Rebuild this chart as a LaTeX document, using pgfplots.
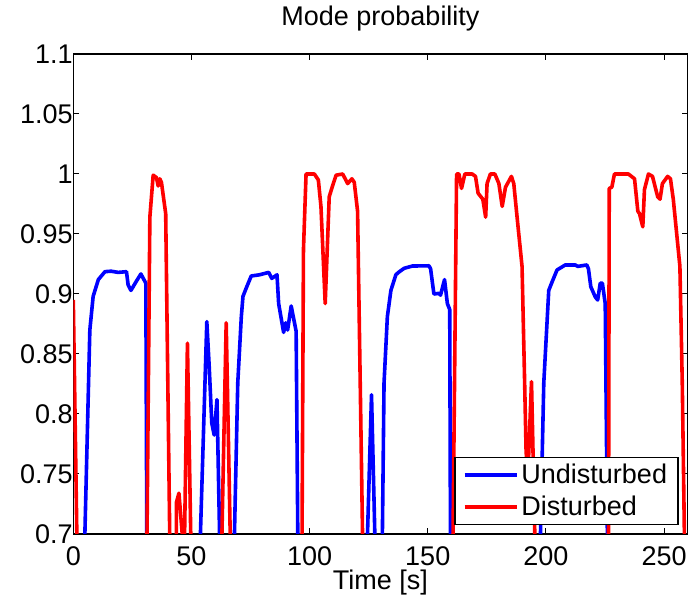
\documentclass[border=0pt]{standalone}
\usepackage{pgfplots}
\pgfplotsset{compat=1.18}
\usepackage{fontspec}
\setmainfont{Liberation Sans}
\begin{document}
\begin{tikzpicture}
\begin{axis}[
  scale only axis,
  width=614.4pt, height=480pt,
  xmin=0, xmax=260, ymin=0.7, ymax=1.1,
  xtick={0,50,100,150,200,250},
  ytick={0.7,0.75,0.8,0.85,0.9,0.95,1,1.05,1.1},
  yticklabels={0.7,0.75,0.8,0.85,0.9,0.95,1,1.05,1.1},
  /pgf/number format/assume math mode=true,
  tick align=inside,
  major tick length=6pt,
  tick style={black, line width=1pt},
  axis line style={line width=1.3pt},
  every tick label/.append style={font=\fontsize{27}{30}\selectfont},
  xticklabel style={anchor=base, yshift=-32pt},
  yticklabel style={anchor=east, xshift=3pt},
  title={Mode probability},
  title style={font=\fontsize{27}{30}\selectfont, at={(0.5,1)}, anchor=base, yshift=22pt},
  xlabel={Time [s]},
  xlabel style={font=\fontsize{27}{30}\selectfont, at={(0.5,0)}, anchor=base, yshift=-56pt},
  legend style={at={(rel axis cs:1,0)}, anchor=south east, xshift=-9pt, yshift=9pt,
    draw=black, line width=1.3pt, font=\fontsize{27}{30}\selectfont,
    inner xsep=8pt, inner ysep=4pt, row sep=5pt, cells={anchor=west},
    nodes={inner sep=3pt}},
  legend image code/.code={\draw[#1] (0pt,0pt) -- (52pt,0pt);},
  legend cell align=left,
]
\addplot[blue, line width=3.6pt, line join=round] coordinates {
(0,0.1)(4.0,0.1)(4.9,0.7)(7.0,0.87)(8.4,0.898)(10.6,0.912)(13.4,0.9186)(16,0.919)(19,0.918)(22.5,0.9186)(23.2,0.9075)(24.4,0.903)(26.5,0.910)(28.6,0.9167)(30.7,0.909)(31.1,0.7)(31.5,0.1)
(53.3,0.1)(53.8,0.7)(56.5,0.877)(57.5,0.84)(58.6,0.7925)(59.6,0.7825)(60.8,0.812)(61.9,0.7)(62.3,0.1)
(67.8,0.1)(68.2,0.7)(69.6,0.826)(71.1,0.881)(71.8,0.898)(73.4,0.906)(75.3,0.915)(78.8,0.916)(82.7,0.918)(84.0,0.913)(86.2,0.916)(86.9,0.892)(89.0,0.868)(89.9,0.876)(90.7,0.87)(92.2,0.89)(94.3,0.869)(95.0,0.7)(95.4,0.1)
(124.1,0.1)(124.5,0.7)(126.2,0.816)(127.6,0.7)(128.0,0.1)
(130.4,0.1)(130.8,0.7)(131.5,0.826)(132.9,0.881)(134.4,0.903)(136.5,0.916)(137.6,0.918)(140.0,0.9214)(143.5,0.9233)(150.5,0.9235)(151.2,0.921)(152.6,0.9)(154.7,0.9005)(155.4,0.899)(157.1,0.912)(158.3,0.892)(159.3,0.887)(159.6,0.7)(160,0.1)
(197.3,0.1)(197.7,0.7)(199.1,0.826)(201.2,0.903)(202.4,0.909)(204.7,0.92)(208.2,0.9242)(212.4,0.9242)(213.5,0.923)(217.3,0.9242)(218.0,0.921)(219.0,0.906)(220.9,0.8975)(221.9,0.895)(223.0,0.909)(223.9,0.909)(225.1,0.892)(226.0,0.7)(226.4,0.1)(260,0.1)
};
\addlegendentry{Undisturbed}
\addplot[red, line width=3.6pt, line join=round] coordinates {
(0,0.895)(1.5,0.7)(2,0.1)(30.8,0.1)(31.2,0.7)(32.4,0.964)(33.8,0.999)(35.2,0.997)(35.9,0.99)(36.6,0.996)(37.3,0.993)(39.1,0.967)(40.8,0.7)(41.2,0.1)
(43.3,0.1)(43.6,0.726)(44.7,0.734)(46.1,0.7)(46.5,0.1)
(46.8,0.1)(47.1,0.7)(48.3,0.859)(49.7,0.7)(50.1,0.1)
(62.5,0.1)(62.9,0.7)(64.7,0.876)(66.4,0.7)(66.8,0.1)
(96.4,0.1)(96.8,0.7)(97.4,0.937)(98.5,1.0)(102.0,1.0)(103.7,0.995)(104.8,0.973)(106.6,0.892)(108.3,0.981)(109.7,0.99)(111.2,0.999)(114.0,1.0)(116.1,0.992)(117.9,0.996)(118.9,0.993)(120.3,0.969)(122.4,0.7)(122.8,0.1)
(160.3,0.1)(160.7,0.7)(162.2,1.0)(163.2,1.0)(164.3,0.988)(165.7,1.0)(168.8,1.0)(170.2,0.998)(171.3,0.984)(173.3,0.979)(174.5,0.964)(175.1,0.992)(176.5,1.0)(178.4,1.0)(180.1,0.992)(181.5,0.973)(182.9,0.989)(185.4,0.998)(186.4,0.992)(187.8,0.964)(189.9,0.923)(191.0,0.826)(191.6,0.77)(192.3,0.745)(193.9,0.827)(195.3,0.7)(195.7,0.1)
(226.1,0.1)(226.5,0.7)(226.8,0.988)(227.9,0.989)(229.0,1.0)(234.9,1.0)(237.5,0.996)(238.9,0.969)(239.6,0.967)(241.0,0.956)(241.7,0.987)(243.4,1.0)(245.1,0.998)(247.3,0.981)(248.3,0.979)(249.3,0.992)(251.5,0.998)(252.7,0.996)(253.9,0.979)(256.7,0.923)(257.7,0.826)(258.6,0.7)(259,0.1)(260,0.1)
};
\addlegendentry{Disturbed}
\end{axis}
\pgfresetboundingbox
\path ([shift={(-73.3pt,-69pt)}]current axis.south west) rectangle ([shift={(3.3pt,54pt)}]current axis.north east);
\end{tikzpicture}
\end{document}
